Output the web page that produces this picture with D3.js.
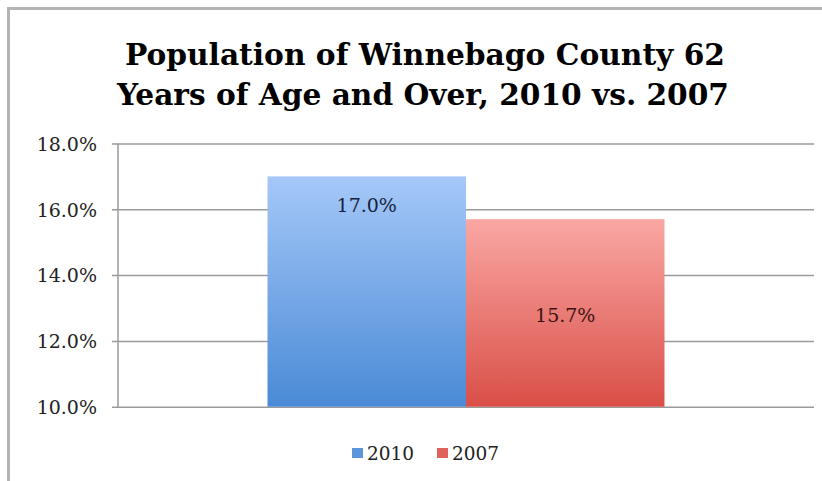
<!DOCTYPE html>
<html><head><meta charset="utf-8">
<script src="https://cdn.jsdelivr.net/npm/d3@7"></script>
<style>body{margin:0;background:#fff}svg{display:block}</style>
</head><body>
<svg id="c" width="822" height="481"></svg>
<script>
const titleLines = ["Population of Winnebago County 62", "Years of Age and Over, 2010 vs. 2007"];
const categories = [""];
const seriesNames = ["2010", "2007"];
const values2010 = [17.0];
const values2007 = [15.7];
const yTicks = [10, 12, 14, 16, 18];

const W = 822, H = 481;
const svg = d3.select("#c");
const m = {left: 118, right: 814, top: 143.5, bottom: 406.7};
const serif = "'DejaVu Serif','Liberation Serif',serif";
const titleFont = "'DejaVu Serif Condensed','DejaVu Serif',serif";

// gradients
const defs = svg.append("defs");
const grads = [["g2010", "#a5c8f8", "#4a8ad6"], ["g2007", "#faa7a4", "#d94f47"]];
grads.forEach(([id, a, b]) => {
  const g = defs.append("linearGradient").attr("id", id).attr("x1", 0).attr("y1", 0).attr("x2", 0).attr("y2", 1);
  g.append("stop").attr("offset", "0%").attr("stop-color", a);
  g.append("stop").attr("offset", "100%").attr("stop-color", b);
});
const legendColors = ["#5b95dc", "#e0625c"];

// border
svg.append("path").attr("d", `M8.5,${H} V8.5 H${W}`).attr("fill", "none").attr("stroke", "#b3b3b3").attr("stroke-width", 3);

// title
const titleWidths = [600, 612];
const titleX = [425, 423];
const t = svg.append("g");
titleLines.forEach((s, i) => {
  t.append("text").attr("x", titleX[i]).attr("y", 65 + i * 40).attr("text-anchor", "middle")
    .attr("font-family", titleFont).attr("font-weight", "bold").attr("font-size", 30)
    .attr("textLength", titleWidths[i]).attr("lengthAdjust", "spacingAndGlyphs")
    .attr("fill", "#000").text(s);
});

const y = d3.scaleLinear().domain([10, 18]).range([m.bottom, m.top]);
const x0 = d3.scaleBand().domain(categories).range([m.left, m.right]).paddingInner(0).paddingOuter(0.3766);
const x1 = d3.scaleBand().domain(seriesNames).range([0, x0.bandwidth()]);

// grid
const yAxis = d3.axisLeft(y).tickValues(yTicks).tickSize(-(m.right - m.left)).tickFormat(d => d.toFixed(1) + "%").tickPadding(21);
const ga = svg.append("g").attr("transform", `translate(${m.left},0)`).call(yAxis);
ga.select(".domain").remove();
ga.selectAll(".tick line").attr("stroke", "#9a9a9a").attr("stroke-width", 1.5).attr("x1", -6);
ga.selectAll(".tick text").attr("font-family", serif).attr("font-size", 19).attr("fill", "#222").attr("dy", "0.36em");
svg.append("line").attr("x1", m.left).attr("x2", m.left).attr("y1", m.top).attr("y2", m.bottom)
  .attr("stroke", "#9a9a9a").attr("stroke-width", 1.5);

// bars
const data = [];
categories.forEach((c, i) => {
  data.push({c, s: "2010", v: values2010[i], fill: "url(#g2010)", lc: "#14233f", lpos: "top"});
  data.push({c, s: "2007", v: values2007[i], fill: "url(#g2007)", lc: "#3a1412", lpos: "mid"});
});
svg.selectAll("rect.bar").data(data).join("rect").attr("class", "bar")
  .attr("x", d => x0(d.c) + x1(d.s)).attr("width", x1.bandwidth())
  .attr("y", d => y(d.v)).attr("height", d => y(10) - y(d.v)).attr("fill", d => d.fill);

svg.selectAll("text.lbl").data(data).join("text").attr("class", "lbl")
  .attr("x", d => x0(d.c) + x1(d.s) + x1.bandwidth() / 2)
  .attr("y", d => d.lpos === "top" ? y(d.v) + 36 : (y(d.v) + y(10)) / 2 + 9)
  .attr("text-anchor", "middle").attr("font-family", serif).attr("font-size", 19)
  .attr("fill", d => d.lc).text(d => d.v.toFixed(1) + "%");

// legend
const lg = svg.append("g");
const lx = [352, 437];
seriesNames.forEach((s, i) => {
  lg.append("rect").attr("x", lx[i]).attr("y", 448).attr("width", 11).attr("height", 10).attr("fill", legendColors[i]);
  lg.append("text").attr("x", lx[i] + 15).attr("y", 460).attr("font-family", serif).attr("font-size", 18.5)
    .attr("fill", "#222").text(s);
});
</script>
</body></html>
